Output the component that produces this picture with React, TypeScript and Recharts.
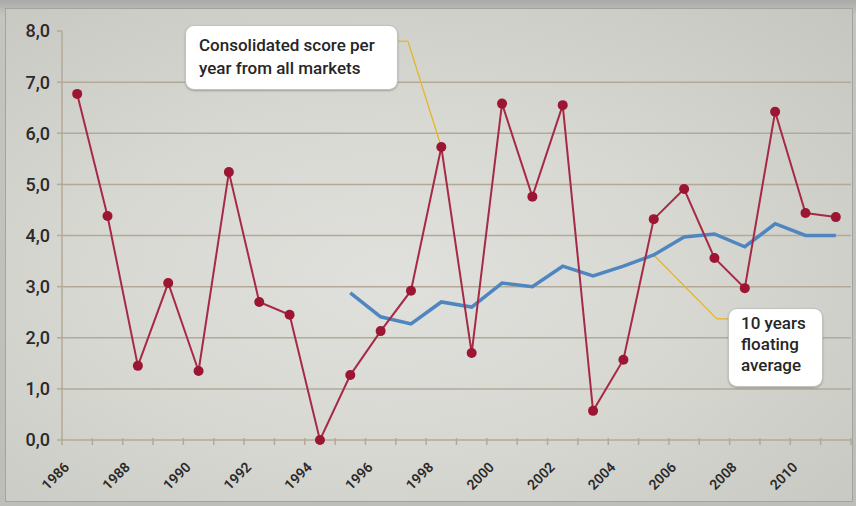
import React from "react";
import {
  LineChart,
  Line,
  XAxis,
  YAxis,
  CartesianGrid,
  ReferenceLine,
} from "recharts";

// years on the x axis
const years = [
  1986, 1987, 1988, 1989, 1990, 1991, 1992, 1993, 1994, 1995, 1996, 1997, 1998,
  1999, 2000, 2001, 2002, 2003, 2004, 2005, 2006, 2007, 2008, 2009, 2010, 2011,
];

// consolidated score per year from all markets
const scores = [
  6.77, 4.38, 1.45, 3.07, 1.35, 5.24, 2.7, 2.45, 0.0, 1.27, 2.13, 2.92, 5.73,
  1.7, 6.58, 4.76, 6.55, 0.57, 1.57, 4.32, 4.91, 3.56, 2.97, 6.42, 4.44, 4.36,
];

// 10 years floating average (starts 1995)
const floatingAvg = [
  null, null, null, null, null, null, null, null, null, 2.88, 2.41, 2.27, 2.7,
  2.6, 3.07, 3.0, 3.4, 3.21, 3.4, 3.62, 3.97, 4.03, 3.78, 4.23, 4.0, 4.0,
];

const yearLabels = [
  1986, 1988, 1990, 1992, 1994, 1996, 1998, 2000, 2002, 2004, 2006, 2008, 2010,
];
const yTicks = [0, 1, 2, 3, 4, 5, 6, 7, 8];
const gridValues = [1, 2, 3, 4, 5, 6, 7];

const data = years.map((year, i) => ({
  year,
  score: scores[i],
  avg: floatingAvg[i],
}));

// axis ticks: a small mark between every year, a label on every 2nd year
const boundaries = years.map((y) => y - 0.5).concat(years[years.length - 1] + 0.5);
const xTicks = [...boundaries, ...yearLabels].sort((a, b) => a - b);

const FONT = "Roboto, 'Noto Sans', sans-serif";
const AXIS = "#b3a999";
const LEADER = "#e7b52c";

// callout anchors (data coords)
const scoreCallout = { idx: 12, elbow: { x: 1996.9, y: 7.8 }, end: { x: 1996.57, y: 7.8 } };
const avgCallout = { idx: 19, elbow: { x: 2007.08, y: 2.37 }, end: { x: 2007.45, y: 2.37 } };

const XTick = (props: any) => {
  const { x, y, payload } = props;
  const v = payload.value;
  if (v % 1 !== 0) {
    return <line x1={x} x2={x} y1={y - 2} y2={y + 5} stroke={AXIS} strokeWidth={1.5} />;
  }
  const tx = x - 7;
  const ty = y + 28;
  return (
    <text
      x={tx}
      y={ty}
      transform={`rotate(-45, ${tx}, ${ty})`}
      textAnchor="end"
      fontFamily={FONT}
      fontWeight={600}
      fontSize={14}
      fill="#2a2a2a"
    >
      {v}
    </text>
  );
};

const boxStyle: React.CSSProperties = {
  position: "absolute",
  background: "#fff",
  borderRadius: 9,
  border: "1px solid #c2c2bd",
  boxShadow: "0 1px 2px rgba(0,0,0,0.25)",
  fontFamily: FONT,
  fontWeight: 500,
  fontSize: 17,
  color: "#262626",
  boxSizing: "border-box",
};

export default function App() {
  return (
    <div
      style={{
        position: "absolute",
        left: 0,
        top: 0,
        width: 856,
        height: 506,
        background: "linear-gradient(#a9a9a7, #c4c4c1 3%, #bdbdba)",
        overflow: "hidden",
      }}
    >
      <div
        style={{
          position: "absolute",
          left: 5,
          top: 8,
          width: 848,
          height: 494,
          boxSizing: "border-box",
          border: "1px solid #a3a3a0",
          background:
            "radial-gradient(ellipse at 45% 55%, #e0e0dc 0%, #d8d8d3 45%, #c6c6c0 100%)",
        }}
      />
      <div style={{ position: "absolute", left: 0, top: 0 }}>
        <LineChart
          width={856}
          height={506}
          data={data}
          margin={{ top: 31, right: 5, bottom: 0, left: 0 }}
        >
          <CartesianGrid
            vertical={false}
            horizontalValues={gridValues}
            stroke={AXIS}
            strokeWidth={1.5}
          />
          <XAxis
            dataKey="year"
            type="number"
            domain={[1985.5, 2011.5]}
            ticks={xTicks}
            interval={0}
            allowDecimals
            tickLine={false}
            tickSize={0}
            tickMargin={0}
            height={66}
            axisLine={{ stroke: AXIS, strokeWidth: 1.5 }}
            tick={<XTick />}
          />
          <YAxis
            domain={[0, 8]}
            ticks={yTicks}
            interval={0}
            width={62}
            tickSize={5}
            tickMargin={7}
            tickLine={{ stroke: AXIS, strokeWidth: 1.5 }}
            axisLine={{ stroke: AXIS, strokeWidth: 1.5 }}
            tickFormatter={(v: number) => v.toFixed(1).replace(".", ",")}
            tick={{ fontFamily: FONT, fontSize: 18, fontWeight: 500, fill: "#2a2a2a" }}
          />
          <ReferenceLine
            segment={[
              { x: years[scoreCallout.idx], y: scores[scoreCallout.idx] },
              scoreCallout.elbow,
            ]}
            stroke={LEADER}
            strokeWidth={1.3}
            ifOverflow="visible"
          />
          <ReferenceLine
            segment={[scoreCallout.elbow, scoreCallout.end]}
            stroke={LEADER}
            strokeWidth={1.3}
            ifOverflow="visible"
          />
          <ReferenceLine
            segment={[
              { x: years[avgCallout.idx], y: floatingAvg[avgCallout.idx] as number },
              avgCallout.elbow,
            ]}
            stroke={LEADER}
            strokeWidth={1.3}
            ifOverflow="visible"
          />
          <ReferenceLine
            segment={[avgCallout.elbow, avgCallout.end]}
            stroke={LEADER}
            strokeWidth={1.3}
            ifOverflow="visible"
          />
          <Line
            dataKey="avg"
            stroke="#4f86bf"
            strokeWidth={3.5}
            dot={false}
            connectNulls={false}
            isAnimationActive={false}
          />
          <Line
            dataKey="score"
            stroke="#a62a45"
            strokeWidth={2}
            dot={{ r: 5, fill: "#9c1532", stroke: "#9c1532", strokeWidth: 0 }}
            isAnimationActive={false}
          />
        </LineChart>
      </div>
      <div
        style={{
          ...boxStyle,
          left: 185,
          top: 25,
          width: 213,
          height: 65,
          padding: "8px 0 0 13px",
          lineHeight: "23px",
        }}
      >
        Consolidated score per
        <br />
        year from all markets
      </div>
      <div
        style={{
          ...boxStyle,
          left: 728,
          top: 308,
          width: 95,
          height: 79,
          padding: "4px 0 0 12px",
          lineHeight: "21px",
        }}
      >
        10 years
        <br />
        floating
        <br />
        average
      </div>
    </div>
  );
}
